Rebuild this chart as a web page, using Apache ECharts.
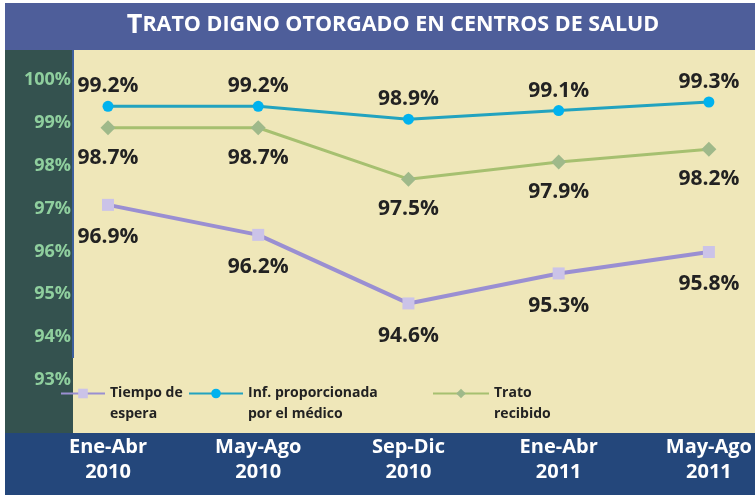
<!DOCTYPE html>
<html>
<head>
<meta charset="utf-8">
<script src="https://cdn.jsdelivr.net/npm/echarts@6/dist/echarts.min.js"></script>
<style>
  html, body { margin: 0; padding: 0; background: #fff; }
  #chart { width: 755px; height: 495px; }
</style>
</head>
<body>
<div id="chart"></div>
<script>
// periods (two lines each)
const periodos = ['Ene-Abr\n2010', 'May-Ago\n2010', 'Sep-Dic\n2010', 'Ene-Abr\n2011', 'May-Ago\n2011'];
const tiempoEspera = [96.9, 96.2, 94.6, 95.3, 95.8];
const infMedico = [99.2, 99.2, 98.9, 99.1, 99.3];
const tratoRecibido = [98.7, 98.7, 97.5, 97.9, 98.2];
const nombres = ['Tiempo de\nespera', 'Inf. proporcionada\npor el médico', 'Trato\nrecibido'];

const FONT = 'Open Sans';
const chart = echarts.init(document.getElementById('chart'));

function dataLabel(pos, dist) {
  return {
    show: true, position: pos, distance: dist,
    fontFamily: FONT, fontWeight: 'bold', fontSize: 21, color: '#222',
    formatter: p => p.value.toFixed(1) + '%'
  };
}

// blank first line so the icon sits level with the first text line
function legendAt(name, left, w) {
  return {
    data: [name], left: left, top: 362, padding: 0, itemWidth: w, itemHeight: 12,
    formatter: n => '\n' + n,
    textStyle: {
      fontFamily: FONT, fontWeight: 'bold', fontSize: 14, color: '#222', lineHeight: 21
    }
  };
}

const option = {
  animation: false,
  graphic: [
    { type: 'rect', z: -5, shape: { x: 5, y: 3, width: 750, height: 47 }, style: { fill: '#4e5e9a' } },
    { type: 'rect', z: -5, shape: { x: 5, y: 50, width: 68, height: 385 }, style: { fill: '#34524f' } },
    { type: 'rect', z: -5, shape: { x: 73, y: 50, width: 682, height: 385 }, style: { fill: '#efe7b9' } },
    { type: 'rect', z: -4, shape: { x: 72, y: 50, width: 2, height: 308 }, style: { fill: '#3d5f9c' } },
    { type: 'rect', z: -5, shape: { x: 5, y: 433, width: 750, height: 62 }, style: { fill: '#24477b' } },
    {
      type: 'text', z: 5, x: 393, y: 25,
      style: {
        text: '{a|T}{b|RATO DIGNO OTORGADO EN CENTROS DE SALUD}',
        align: 'center', verticalAlign: 'middle',
        rich: {
          a: { fontFamily: FONT, fontWeight: 'bold', fontSize: 27, fill: '#fff' },
          b: { fontFamily: FONT, fontWeight: 'bold', fontSize: 21.5, fill: '#fff' }
        }
      }
    }
  ],
  grid: { left: 108, right: 44, top: 72, bottom: 123 },
  legend: [
    legendAt(nombres[0], 60, 44),
    legendAt(nombres[1], 188, 54),
    legendAt(nombres[2], 432, 56)
  ],
  xAxis: {
    type: 'category', data: periodos, boundaryGap: false,
    axisLine: { show: false }, axisTick: { show: false },
    axisLabel: {
      margin: 63, fontFamily: FONT, fontWeight: 'bold', fontSize: 20,
      lineHeight: 25, color: '#fff'
    }
  },
  yAxis: {
    type: 'value', min: 93, max: 100, interval: 1,
    axisLine: { show: false }, axisTick: { show: false }, splitLine: { show: false },
    axisLabel: {
      margin: 37, fontFamily: FONT, fontWeight: 'bold', fontSize: 18, color: '#8fcf9e',
      verticalAlign: 'top', lineHeight: 16,
      formatter: v => v + '%'
    }
  },
  series: [
    {
      name: nombres[0], type: 'line', data: tiempoEspera,
      symbol: 'rect', symbolSize: 12,
      lineStyle: { color: '#9a8fd2', width: 4 },
      itemStyle: { color: '#cbc3e8' },
      label: dataLabel('bottom', 16)
    },
    {
      name: nombres[1], type: 'line', data: infMedico,
      symbol: 'circle', symbolSize: 11,
      lineStyle: { color: '#22a3bf', width: 3 },
      itemStyle: { color: '#00b2ee' },
      label: dataLabel('top', 4)
    },
    {
      name: nombres[2], type: 'line', data: tratoRecibido,
      symbol: 'diamond', symbolSize: 15,
      lineStyle: { color: '#a6c070', width: 3 },
      itemStyle: { color: '#9fb98a' },
      label: dataLabel('bottom', 12)
    }
  ]
};

chart.setOption(option);
</script>
</body>
</html>
